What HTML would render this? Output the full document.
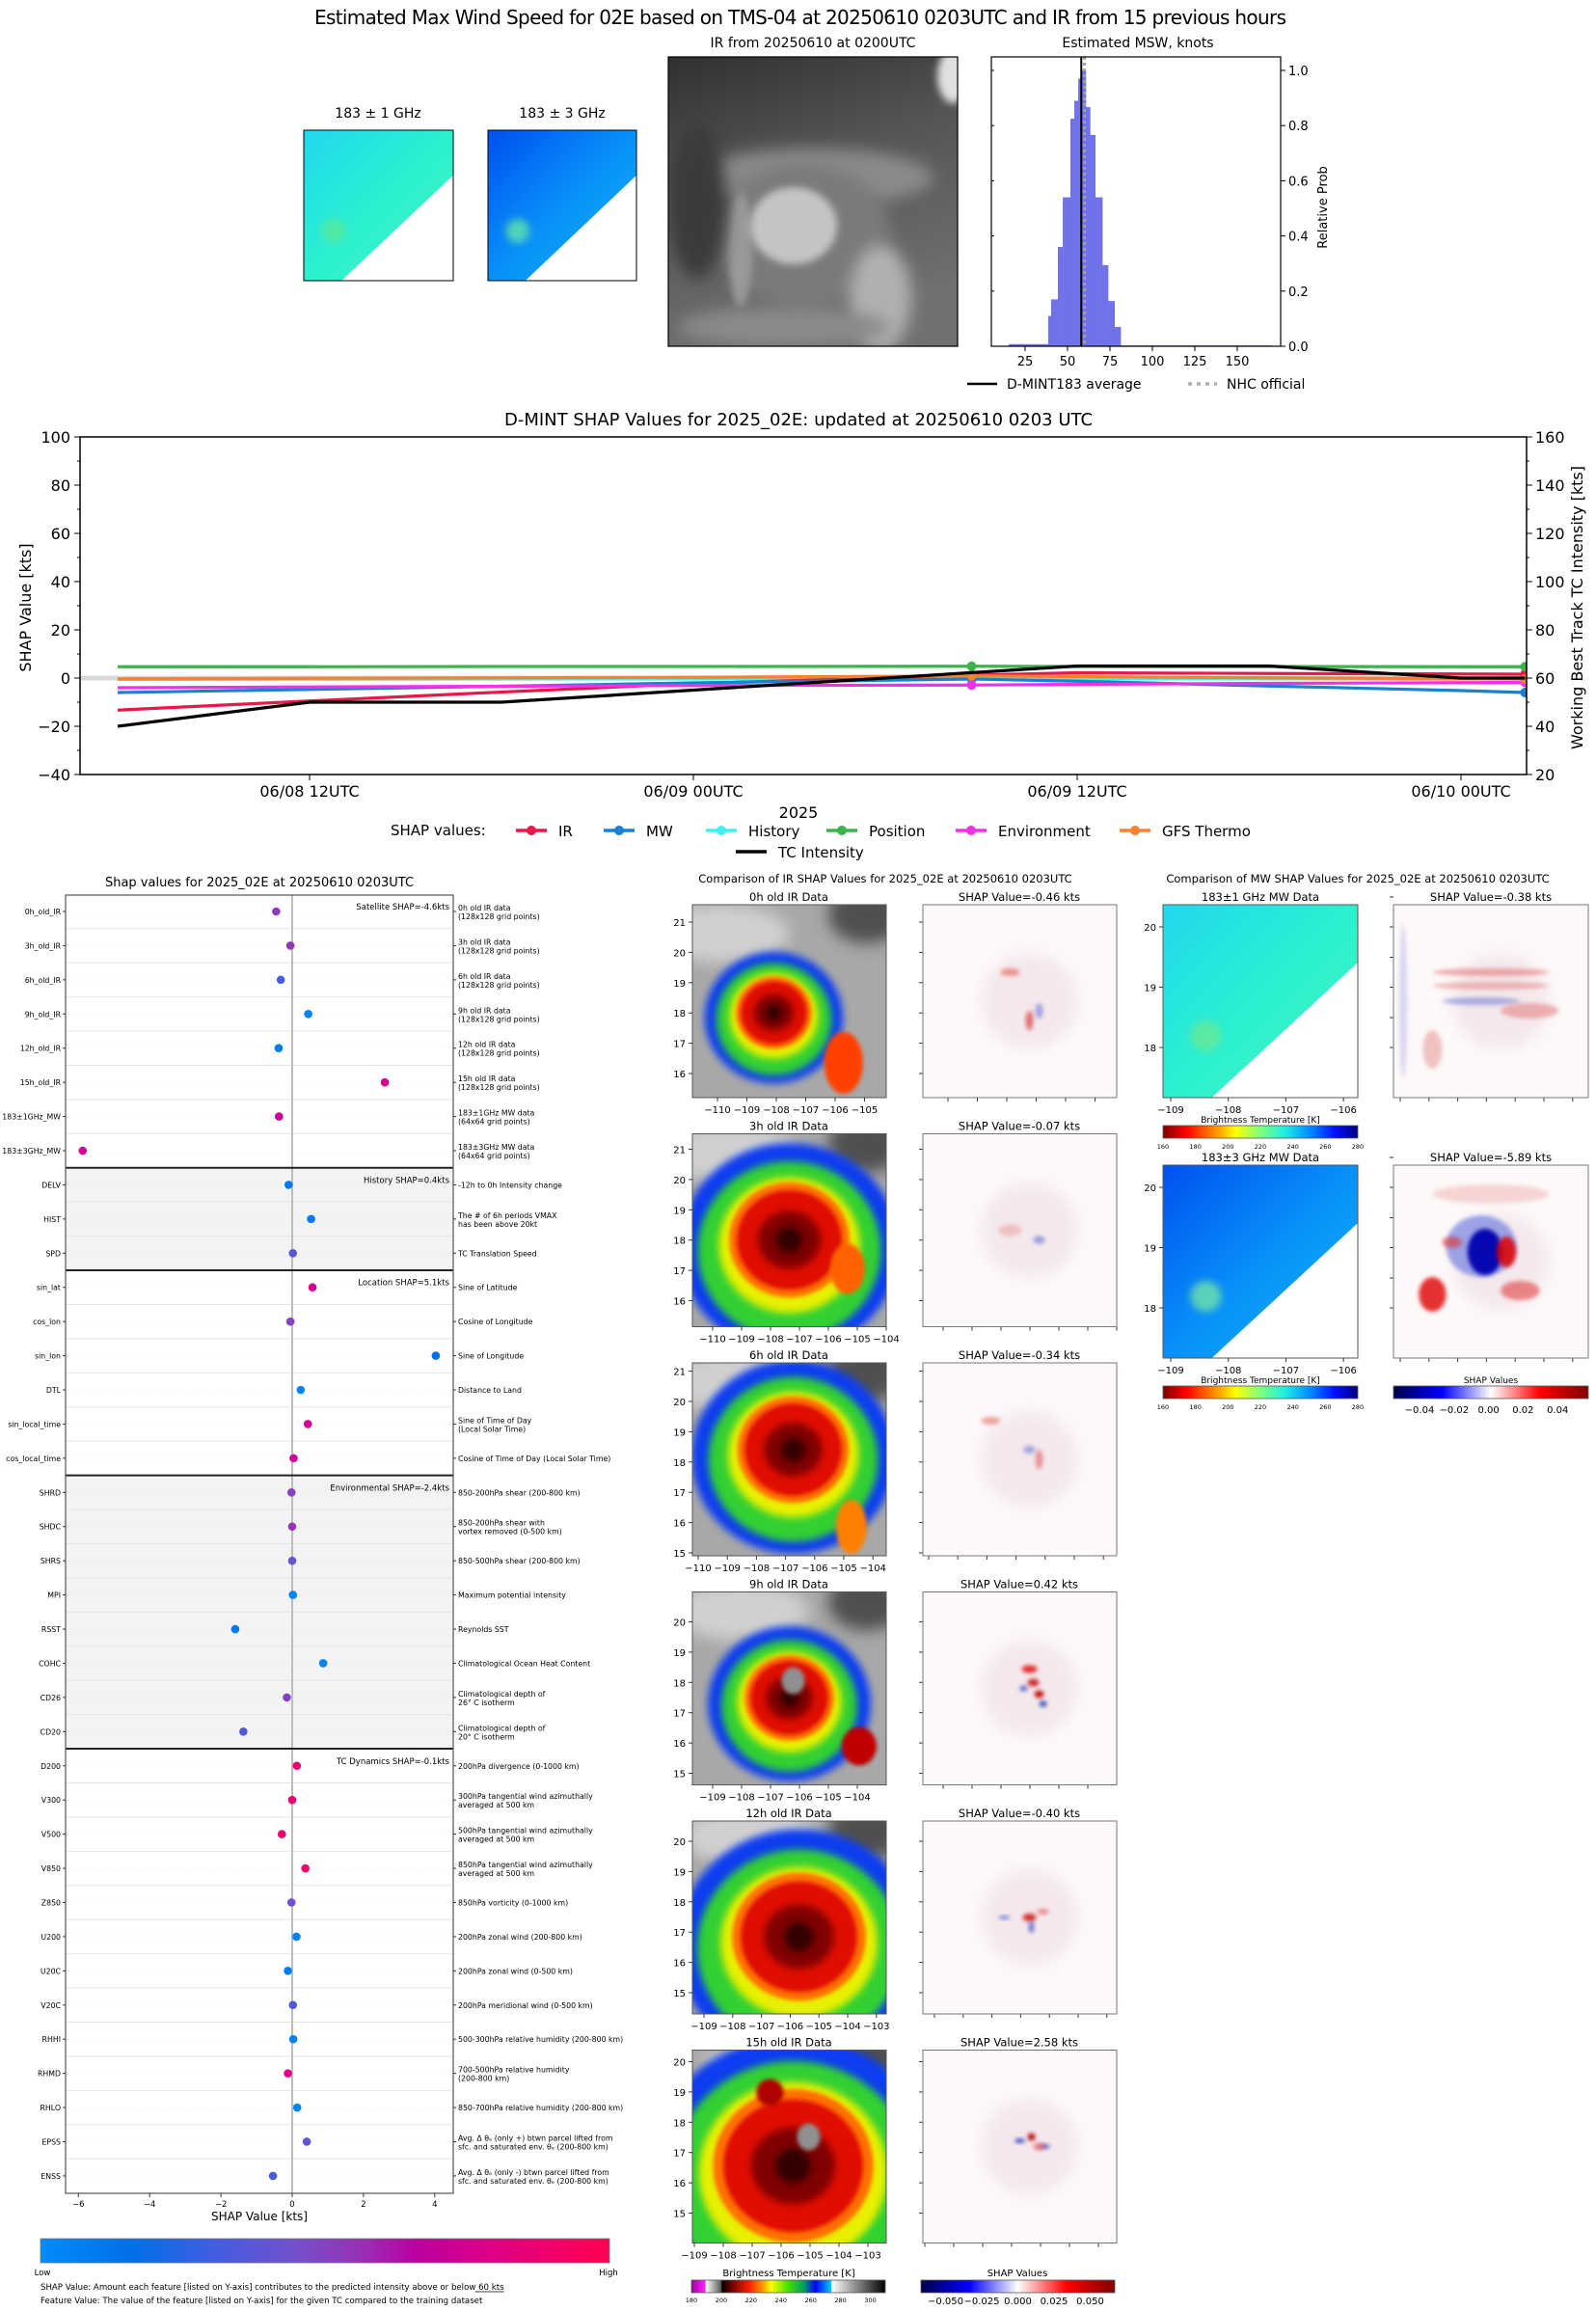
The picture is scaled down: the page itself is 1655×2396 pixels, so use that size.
<!DOCTYPE html>
<html><head><meta charset="utf-8">
<style>
body{margin:0;background:#fff}
svg{display:block;font-family:"DejaVu Sans","Liberation Sans",sans-serif}
</style></head>
<body>
<svg id="s" width="1655" height="2396" viewBox="0 0 1655 2396">
<defs id="defs">
<filter id="b2" x="-50%" y="-50%" width="200%" height="200%"><feGaussianBlur stdDeviation="2"/></filter>
<filter id="b4" x="-50%" y="-50%" width="200%" height="200%"><feGaussianBlur stdDeviation="4"/></filter>
<filter id="b8" x="-50%" y="-50%" width="200%" height="200%"><feGaussianBlur stdDeviation="8"/></filter>
<linearGradient id="gShap" x1="0" x2="1" y1="0" y2="0">
<stop offset="0" stop-color="#008bfb"/><stop offset="0.16" stop-color="#0070e8"/><stop offset="0.3" stop-color="#3f5ee2"/><stop offset="0.45" stop-color="#7450cc"/><stop offset="0.57" stop-color="#9a2eb2"/><stop offset="0.66" stop-color="#bb00a0"/><stop offset="0.78" stop-color="#dc0088"/><stop offset="1" stop-color="#ff0052"/></linearGradient>
<linearGradient id="gJet" x1="0" x2="1" y1="0" y2="0">
<stop offset="0" stop-color="#800000"/><stop offset="0.12" stop-color="#ff0000"/><stop offset="0.3" stop-color="#ffb000"/><stop offset="0.37" stop-color="#ffff00"/><stop offset="0.5" stop-color="#80ff80"/><stop offset="0.62" stop-color="#20f0e0"/><stop offset="0.75" stop-color="#0090ff"/><stop offset="0.88" stop-color="#0010ff"/><stop offset="1" stop-color="#000080"/></linearGradient>
<linearGradient id="gSeis" x1="0" x2="1" y1="0" y2="0">
<stop offset="0" stop-color="#00004c"/><stop offset="0.25" stop-color="#0000ff"/><stop offset="0.5" stop-color="#ffffff"/><stop offset="0.75" stop-color="#ff0000"/><stop offset="1" stop-color="#800000"/></linearGradient>
<linearGradient id="gIRc" x1="0" x2="1" y1="0" y2="0">
<stop offset="0" stop-color="#a000a0"/><stop offset="0.07" stop-color="#ff20ff"/><stop offset="0.075" stop-color="#ffffff"/><stop offset="0.15" stop-color="#606060"/><stop offset="0.16" stop-color="#000000"/><stop offset="0.2" stop-color="#600000"/><stop offset="0.3" stop-color="#ff2000"/><stop offset="0.38" stop-color="#ffb000"/><stop offset="0.41" stop-color="#ffff00"/><stop offset="0.5" stop-color="#40e000"/><stop offset="0.58" stop-color="#00a060"/><stop offset="0.64" stop-color="#0000ff"/><stop offset="0.72" stop-color="#00c8ff"/><stop offset="0.725" stop-color="#ffffff"/><stop offset="1" stop-color="#000000"/></linearGradient>
<linearGradient id="gMW1" x1="0" x2="1" y1="0" y2="1"><stop offset="0" stop-color="#20d8f0"/><stop offset="0.5" stop-color="#2cf0d0"/><stop offset="1" stop-color="#40f8b8"/></linearGradient>
<linearGradient id="gMW3" x1="0" x2="1" y1="0" y2="1"><stop offset="0" stop-color="#0050f0"/><stop offset="0.5" stop-color="#0890f8"/><stop offset="1" stop-color="#10b8f8"/></linearGradient>
<linearGradient id="gGray" x1="0" x2="0.3" y1="0" y2="1"><stop offset="0" stop-color="#303030"/><stop offset="0.45" stop-color="#555"/><stop offset="1" stop-color="#707070"/></linearGradient>
</defs>
</svg>
<script>
// ---------- data ----------
const histEdges = [15.3,38.6,40.3,44.3,47.2,51.7,54,56.3,58.5,60.8,63.3,66.3,70.5,73.9,77.7,81.3,170.3];
const histProb = [0.008,0.11,0.17,0.36,0.54,0.825,0.89,0.97,1.0,0.867,0.766,0.54,0.294,0.164,0.07,0.003];
const histXTicks = [25,50,75,100,125,150];
const histYTicks = [0,0.2,0.4,0.6,0.8,1.0];
const dmintMean = 58.1;
const nhcOfficial = 60;

const tsHours = [6,12,18,24,32.7,36,42,48,50];
const tsIR = [-13.3,-9.5,-5.8,-2.3,1.2,2.2,1.9,1.7,1.6];
const tsMW = [-6,-4.7,-3.4,-2,-0.4,-1.3,-3.3,-5.2,-6];
const tsHistory = [-0.6,-0.5,-0.4,-0.3,-0.2,-0.2,-0.3,-0.4,-0.4];
const tsPosition = [4.7,4.7,4.8,4.8,4.9,4.8,4.8,4.7,4.7];
const tsEnv = [-4,-3.7,-3.4,-3.1,-2.9,-2.6,-2.2,-1.9,-1.8];
const tsGFS = [-0.3,-0.1,0.1,0.3,0.9,0.6,0.1,-0.3,-0.4];
const tcHours = [6,12,18,24,36,42,48,50];
const tcIntensity = [40,50,50,55,65,65,60,60];
const tsMarkerHours = [32.7,50];
const tsXTickHours = [12,24,36,48];
const tsXTickLabels = ['06/08 12UTC','06/09 00UTC','06/09 12UTC','06/10 00UTC'];
const tsLeftTicks = [-40,-20,0,20,40,60,80,100];
const tsRightTicks = [20,40,60,80,100,120,140,160];

const featNames = ['0h_old_IR','3h_old_IR','6h_old_IR','9h_old_IR','12h_old_IR','15h_old_IR','183±1GHz_MW','183±3GHz_MW','DELV','HIST','SPD','sin_lat','cos_lon','sin_lon','DTL','sin_local_time','cos_local_time','SHRD','SHDC','SHRS','MPI','RSST','COHC','CD26','CD20','D200','V300','V500','V850','Z850','U200','U20C','V20C','RHHI','RHMD','RHLO','EPSS','ENSS'];
const featShap = [-0.45,-0.05,-0.32,0.45,-0.38,2.6,-0.37,-5.88,-0.1,0.53,0.02,0.57,-0.05,4.03,0.24,0.44,0.04,-0.02,0,0,0.02,-1.6,0.87,-0.15,-1.37,0.13,0,-0.29,0.37,-0.02,0.12,-0.12,0.02,0.03,-0.12,0.14,0.41,-0.54];
const featValue = [0.52,0.55,0.33,0.05,0.1,0.75,0.7,0.75,0.1,0.1,0.4,0.75,0.5,0.15,0.05,0.75,0.72,0.5,0.55,0.42,0.05,0.1,0.05,0.5,0.35,0.9,0.88,0.88,0.9,0.45,0.05,0.08,0.35,0.05,0.8,0.05,0.4,0.35];
const featDesc = [['0h old IR data','(128x128 grid points)'],['3h old IR data','(128x128 grid points)'],['6h old IR data','(128x128 grid points)'],['9h old IR data','(128x128 grid points)'],['12h old IR data','(128x128 grid points)'],['15h old IR data','(128x128 grid points)'],['183±1GHz MW data','(64x64 grid points)'],['183±3GHz MW data','(64x64 grid points)'],['-12h to 0h Intensity change'],['The # of 6h periods VMAX','has been above 20kt'],['TC Translation Speed'],['Sine of Latitude'],['Cosine of Longitude'],['Sine of Longitude'],['Distance to Land'],['Sine of Time of Day','(Local Solar Time)'],['Cosine of Time of Day (Local Solar Time)'],['850-200hPa shear (200-800 km)'],['850-200hPa shear with','vortex removed (0-500 km)'],['850-500hPa shear (200-800 km)'],['Maximum potential intensity'],['Reynolds SST'],['Climatological Ocean Heat Content'],['Climatological depth of','26° C isotherm'],['Climatological depth of','20° C isotherm'],['200hPa divergence (0-1000 km)'],['300hPa tangential wind azimuthally','averaged at 500 km'],['500hPa tangential wind azimuthally','averaged at 500 km'],['850hPa tangential wind azimuthally','averaged at 500 km'],['850hPa vorticity (0-1000 km)'],['200hPa zonal wind (200-800 km)'],['200hPa zonal wind (0-500 km)'],['200hPa meridional wind (0-500 km)'],['500-300hPa relative humidity (200-800 km)'],['700-500hPa relative humidity','(200-800 km)'],['850-700hPa relative humidity (200-800 km)'],['Avg. Δ θₑ (only +) btwn parcel lifted from','sfc. and saturated env. θₑ (200-800 km)'],['Avg. Δ θₑ (only -) btwn parcel lifted from','sfc. and saturated env. θₑ (200-800 km)']];
const groupLabels = ['Satellite SHAP=-4.6kts','History SHAP=0.4kts','Location SHAP=5.1kts','Environmental SHAP=-2.4kts','TC Dynamics SHAP=-0.1kts'];
const groupStarts = [0,8,11,17,25,38];
const shapXTicks = [-6,-4,-2,0,2,4];

const irTitles = ['0h old IR Data','3h old IR Data','6h old IR Data','9h old IR Data','12h old IR Data','15h old IR Data'];
const irShapVals = ['-0.46','-0.07','-0.34','0.42','-0.40','2.58'];
const mwShapVals = ['-0.38','-5.89'];

// ---------- helpers ----------
const NS='http://www.w3.org/2000/svg';
const svg=document.getElementById('s');
const defs=document.getElementById('defs');
function mk(tag,at,p){const e=document.createElementNS(NS,tag);for(const k in at)e.setAttribute(k,at[k]);(p||svg).appendChild(e);return e;}
function tx(str,x,y,size,anchor,p){const e=mk('text',{x:x,y:y,'font-size':size,'text-anchor':anchor||'start',fill:'#000'},p);e.textContent=str;return e;}
function grp(p){return mk('g',{},p);}
function fmtMinus(v){return (v<0?'\u2212':'')+Math.abs(v);}
let cid=0;
function clipRect(x,y,w,h){const id='c'+(cid++);const c=mk('clipPath',{id:id},defs);mk('rect',{x:x,y:y,width:w,height:h},c);return 'url(#'+id+')';}

// ---------- top title ----------
let t=tx('Estimated Max Wind Speed for 02E based on TMS-04 at 20250610 0203UTC and IR from 15 previous hours',830,25,20,'middle');
t.setAttribute('textLength','1008');



// ---------- MW small panels ----------
function mwPanel(x,y,w,h,grad,spot,p){
  mk('rect',{x:x,y:y,width:w,height:h,fill:'url(#'+grad+')'},p);
  mk('ellipse',{cx:x+w*spot[0],cy:y+h*spot[1],rx:w*0.08,ry:h*0.08,fill:spot[2],opacity:0.7,filter:'url(#b4)'},p);
  mk('polygon',{points:(x+w)+','+(y+h*0.3)+' '+(x+w+1)+','+(y+h+1)+' '+(x+w*0.245)+','+(y+h+1),fill:'#fff'},p);
}
let g=grp();


tx('183 ± 1 GHz',392,122,14,'middle',g);
mwPanel(315,135,155,156,'gMW1',[0.2,0.67,'#60e890'],g);
mk('rect',{x:315,y:135,width:155,height:156,fill:'none',stroke:'#000','stroke-width':1},g);
g=grp();


tx('183 ± 3 GHz',583,122,14,'middle',g);
mwPanel(506,135,154,156,'gMW3',[0.2,0.67,'#70f0a0'],g);
mk('rect',{x:506,y:135,width:154,height:156,fill:'none',stroke:'#000','stroke-width':1},g);

// ---------- top IR image ----------
g=grp();


tx('IR from 20250610 at 0200UTC',843,49,14,'middle',g);
let gi=mk('g',{'clip-path':clipRect(693,59,300,300)},g);
mk('rect',{x:693,y:59,width:300,height:300,fill:'url(#gGray)'},gi);
mk('ellipse',{cx:693+150,cy:59+125,rx:125,ry:30,fill:'#8a8a8a',filter:'url(#b8)'},gi);
mk('ellipse',{cx:693+140,cy:59+185,rx:90,ry:75,fill:'#7a7a7a',filter:'url(#b8)'},gi);
mk('ellipse',{cx:693+75,cy:59+200,rx:12,ry:60,fill:'#9a9a9a',filter:'url(#b4)'},gi);
mk('ellipse',{cx:693+130,cy:59+175,rx:45,ry:40,fill:'#c4c4c4',filter:'url(#b4)'},gi);
mk('ellipse',{cx:693+220,cy:59+250,rx:32,ry:55,fill:'#b0b0b0',filter:'url(#b8)'},gi);
mk('ellipse',{cx:693+295,cy:59+20,rx:16,ry:28,fill:'#e0e0e0',filter:'url(#b4)'},gi);
mk('ellipse',{cx:693+120,cy:59+280,rx:110,ry:20,fill:'#8a8a8a',filter:'url(#b8)'},gi);
mk('ellipse',{cx:693+30,cy:59+150,rx:30,ry:80,fill:'#3a3a3a',filter:'url(#b8)'},gi);
mk('rect',{x:693,y:59,width:300,height:300,fill:'none',stroke:'#000','stroke-width':1.2},g);

// ---------- histogram ----------
const HX=k=>1019+k*1.76, HY=p=>359-p*286;
g=grp();


tx('Estimated MSW, knots',1180,49,14,'middle',g);
for(let i=0;i<histProb.length;i++){
  const b=mk('rect',{x:HX(histEdges[i]),y:HY(histProb[i]),width:HX(histEdges[i+1])-HX(histEdges[i])+0.3,height:HY(0)-HY(histProb[i]),fill:'#7272e8'},g);
  
  
}
let ln=mk('line',{x1:HX(dmintMean),x2:HX(dmintMean),y1:59,y2:359,stroke:'#000','stroke-width':2},g);


ln=mk('line',{x1:HX(nhcOfficial),x2:HX(nhcOfficial),y1:59,y2:359,stroke:'#a0a0a0','stroke-width':3,'stroke-dasharray':'3 3'},g);


mk('rect',{x:1028,y:59,width:300,height:300,fill:'none',stroke:'#000','stroke-width':1.2},g);
histXTicks.forEach(k=>{mk('line',{x1:HX(k),x2:HX(k),y1:359,y2:364,stroke:'#000'},g);const l=tx(String(k),HX(k),379,13,'middle',g);});
histYTicks.forEach(p=>{mk('line',{x1:1328,x2:1333,y1:HY(p),y2:HY(p),stroke:'#000'},g);mk('line',{x1:1028,x2:1031,y1:HY(p),y2:HY(p),stroke:'#000'},g);const l=tx(p.toFixed(1),1336,HY(p)+5,13,'start',g);});
t=tx('Relative Prob',1376,215,13,'middle',g);
t.setAttribute('transform','rotate(-90 1376 215)');


g=grp();


mk('line',{x1:1003,x2:1034,y1:398,y2:398,stroke:'#000','stroke-width':2.5},g);
tx('D-MINT183 average',1044,403,14,'start',g);
mk('line',{x1:1232,x2:1262,y1:398,y2:398,stroke:'#b0b0b0','stroke-width':3.5,'stroke-dasharray':'4 5'},g);
tx('NHC official',1272,403,14,'start',g);

// ---------- time series ----------
const TX=h=>-77+h*33.167, TY=v=>803-(v+40)*2.5, TYR=k=>TY(k-60);
g=grp();


t=tx('D-MINT SHAP Values for 2025_02E: updated at 20250610 0203 UTC',828,441,18,'middle',g);


const gp=mk('g',{'clip-path':clipRect(83,453,1500,350)},g);
mk('line',{x1:83,x2:1583,y1:TY(0),y2:TY(0),stroke:'#d8d8d8','stroke-width':5},gp);
const series=[['IR',tsIR,'#e6194b'],['MW',tsMW,'#1a80d0'],['History',tsHistory,'#42f0f0'],['Position',tsPosition,'#3cb44b'],['Environment',tsEnv,'#f032e6'],['GFS Thermo',tsGFS,'#f58231']];
const drawOrder=[2,0,1,3,4,5];
drawOrder.forEach(si=>{
  const s=series[si];
  const pts=tsHours.map((h,i)=>TX(h)+','+TY(s[1][i])).join(' ');
  const pl=mk('polyline',{points:pts,fill:'none',stroke:s[2],'stroke-width':3.2,'stroke-linejoin':'round'},gp);
  
  
  tsMarkerHours.forEach(mh=>{const i=tsHours.indexOf(mh);const c=mk('circle',{cx:TX(mh),cy:TY(s[1][i]),r:5,fill:s[2]},gp);});
});
const tcl=mk('polyline',{points:tcHours.map((h,i)=>TX(h)+','+TYR(tcIntensity[i])).join(' '),fill:'none',stroke:'#000','stroke-width':3.2},gp);


mk('rect',{x:83,y:453,width:1500,height:350,fill:'none',stroke:'#000','stroke-width':1.5},g);
tsLeftTicks.forEach(v=>{mk('line',{x1:77,x2:83,y1:TY(v),y2:TY(v),stroke:'#000'},g);const l=tx(fmtMinus(v),73,TY(v)+6,16,'end',g);});
for(let v=-30;v<100;v+=20){mk('line',{x1:80,x2:83,y1:TY(v),y2:TY(v),stroke:'#000'},g);}
tsRightTicks.forEach(k=>{mk('line',{x1:1583,x2:1589,y1:TYR(k),y2:TYR(k),stroke:'#000'},g);const l=tx(String(k),1592,TYR(k)+6,16,'start',g);});
for(let k=30;k<160;k+=20){mk('line',{x1:1583,x2:1586,y1:TYR(k),y2:TYR(k),stroke:'#000'},g);}
tsXTickHours.forEach((h,i)=>{mk('line',{x1:TX(h),x2:TX(h),y1:803,y2:809,stroke:'#000'},g);const l=tx(tsXTickLabels[i],TX(h),826,16,'middle',g);});
t=tx('2025',828,848,16,'middle',g);


t=tx('SHAP Value [kts]',32,630,16,'middle',g);
t.setAttribute('transform','rotate(-90 32 630)');


t=tx('Working Best Track TC Intensity [kts]',1641,630,16,'middle',g);
t.setAttribute('transform','rotate(-90 1641 630)');


g=grp();


tx('SHAP values:',405,866,15,'start',g);
const legX=[535,626,732,857,991,1161];
series.forEach((s,i)=>{
  const e=grp(g);
  
  
  mk('line',{x1:legX[i],x2:legX[i]+32,y1:861,y2:861,stroke:s[2],'stroke-width':3.5},e);
  mk('circle',{cx:legX[i]+16,cy:861,r:5,fill:s[2]},e);
  tx(s[0],legX[i]+44,867,15,'start',e);
});
let e2=grp(g);


mk('line',{x1:763,x2:795,y1:883,y2:883,stroke:'#000','stroke-width':3.5},e2);
tx('TC Intensity',807,889,15,'start',e2);

// ---------- SHAP feature panel ----------
const RY=i=>945+i*35.43, SX=v=>303+v*36.95;
const cmStops=[[0,[0,139,251]],[0.16,[0,112,232]],[0.3,[63,94,226]],[0.45,[116,80,204]],[0.57,[154,46,178]],[0.66,[187,0,160]],[0.78,[220,0,136]],[1,[255,0,82]]];
function cmap(f){for(let i=1;i<cmStops.length;i++){if(f<=cmStops[i][0]){const a=cmStops[i-1],b=cmStops[i];const u=(f-a[0])/(b[0]-a[0]);return 'rgb('+a[1].map((c,j)=>Math.round(c+(b[1][j]-c)*u)).join(',')+')';}}return 'rgb(255,0,82)';}
g=grp();


t=tx('Shap values for 2025_02E at 20250610 0203UTC',269,919,13,'middle',g);


for(let gI=0;gI<5;gI++){
  const y0=RY(groupStarts[gI])-17.7, y1=RY(groupStarts[gI+1])-17.7;
  const r=mk('rect',{x:68,y:y0,width:402,height:y1-y0,fill:(gI%2?'#f3f3f3':'#fff')},g);
  
  
}
for(let i=1;i<38;i++){mk('line',{x1:68,x2:470,y1:RY(i)-17.7,y2:RY(i)-17.7,stroke:'#e4e4e4','stroke-width':1},g);}
for(let i=0;i<38;i++){mk('line',{x1:68,x2:470,y1:RY(i),y2:RY(i),stroke:'#eaeaea','stroke-width':0.6,'stroke-dasharray':'1 2'},g);}
mk('line',{x1:SX(0),x2:SX(0),y1:928,y2:2274,stroke:'#bdbdbd','stroke-width':2},g);
for(let gI=1;gI<5;gI++){mk('line',{x1:68,x2:470,y1:RY(groupStarts[gI])-17.7,y2:RY(groupStarts[gI])-17.7,stroke:'#222','stroke-width':2},g);}
for(let gI=0;gI<5;gI++){const l=tx(groupLabels[gI],466,RY(groupStarts[gI])-2,8.5,'end',g);}
mk('rect',{x:68,y:928,width:402,height:1346,fill:'none',stroke:'#555','stroke-width':1.2},g);
featNames.forEach((n,i)=>{
  const y=RY(i);
  mk('line',{x1:65,x2:68,y1:y,y2:y,stroke:'#333'},g);
  mk('line',{x1:470,x2:473,y1:y,y2:y,stroke:'#333'},g);
  const l=tx(n,63,y+3,7.8,'end',g);
  
  
  const d=featDesc[i];
  if(d.length===1){const dl=tx(d[0],475,y+3,7.8,'start',g);}
  else{const dl=tx(d[0],475,y-1,7.8,'start',g);const dl2=tx(d[1],475,y+8,7.8,'start',g);}
  const c=mk('circle',{cx:SX(featShap[i]),cy:y,r:4.3,fill:cmap(featValue[i])},g);
  
  
});
shapXTicks.forEach(v=>{mk('line',{x1:SX(v),x2:SX(v),y1:2274,y2:2278,stroke:'#333'},g);const l=tx(fmtMinus(v),SX(v),2288,8.5,'middle',g);});
t=tx('SHAP Value [kts]',269,2302,12,'middle',g);


let cb=mk('rect',{x:42,y:2321,width:590,height:25,fill:'url(#gShap)',stroke:'#777','stroke-width':0.8},g);


tx('Low',44,2359,8.5,'middle',g);
tx('High',631,2359,8.5,'middle',g);
const note1=tx('SHAP Value: Amount each feature [listed on Y-axis] contributes to the predicted intensity above or below 60 kts',42,2374,8.6,'start',g);


const nEnd=42+note1.getComputedTextLength();
mk('line',{x1:nEnd-30,x2:nEnd,y1:2376,y2:2376,stroke:'#000','stroke-width':0.7},g);
const note2=tx('Feature Value: The value of the feature [listed on Y-axis] for the given TC compared to the training dataset',42,2388,8.6,'start',g);



// ---------- IR panels ----------
const panelTops=[938,1175.5,1413,1650.5,1888,2125.5];
const irCfg=[
 {cx:.42,cy:.56,r:.17,ex:[[.78,.82,.1,.16,'#ff4000']],gray:[.15,.15]},
 {cx:.5,cy:.55,r:.27,ex:[[.8,.7,.09,.13,'#ff6000']],gray:[.2,.1]},
 {cx:.52,cy:.45,r:.25,ex:[[.82,.85,.08,.14,'#ff8000']],gray:[.2,.1]},
 {cx:.5,cy:.55,r:.2,ex:[[.86,.8,.09,.1,'#c00000']],gray:[.25,.1],eye:[.52,.46]},
 {cx:.55,cy:.6,r:.3,ex:[],gray:[.3,.08]},
 {cx:.52,cy:.6,r:.36,ex:[[.4,.22,.07,.07,'#b00000']],gray:[.4,.1],eye:[.6,.45]}
];
const irYTick=[[21,18,6],[21,16,6],[21,8.6,7],[20,31,6],[20,21,6],[20,12,6]];
const irXTick=[[-110,26,6,30.5],[-110,21,7,30],[-110,6,7,30.2],[-109,21,6,30],[-109,12,7,29.8],[-109,2,7,30]];
const shapBlobs=[
 [[.45,.35,.05,.02,'#e04040',.5],[.55,.6,.02,.05,'#d02020',.6],[.6,.55,.02,.04,'#3040d0',.4]],
 [[.45,.5,.06,.03,'#f08080',.4],[.6,.55,.03,.02,'#4050d0',.5]],
 [[.35,.3,.05,.02,'#e05050',.5],[.6,.5,.02,.05,'#e04040',.5],[.55,.45,.03,.02,'#5060d0',.5]],
 [[.55,.4,.04,.02,'#e00000',.8],[.57,.47,.03,.02,'#c00000',.8],[.6,.53,.025,.02,'#c00000',.9],[.52,.5,.02,.015,'#2030c0',.7],[.62,.58,.02,.015,'#0020b0',.8]],
 [[.55,.5,.035,.02,'#d00000',.8],[.42,.5,.03,.01,'#3040d0',.6],[.56,.55,.015,.03,'#2030c0',.6],[.62,.47,.03,.015,'#e05050',.6]],
 [[.56,.45,.02,.02,'#b00000',.9],[.5,.47,.025,.012,'#1020c0',.8],[.63,.5,.025,.012,'#2030c0',.7],[.6,.5,.03,.02,'#e04040',.6]]
];
function irPanel(x,y,w,h,c,p){
  const gi=mk('g',{'clip-path':clipRect(x,y,w,h)},p);
  mk('rect',{x:x,y:y,width:w,height:h,fill:'#a8a8a8'},gi);
  mk('ellipse',{cx:x+w*.9,cy:y+h*.05,rx:w*.2,ry:h*.15,fill:'#505050',filter:'url(#b8)'},gi);
  mk('ellipse',{cx:x+w*c.gray[0],cy:y+h*c.gray[1],rx:w*.35,ry:h*.15,fill:'#d0d0d0',filter:'url(#b8)'},gi);
  const R=c.r*w;
  mk('ellipse',{cx:x+w*c.cx,cy:y+h*c.cy+R*.15,rx:R*2.1,ry:R*2.0,fill:'#0a3cf0',filter:'url(#b4)'},gi);
  mk('ellipse',{cx:x+w*c.cx,cy:y+h*c.cy+R*.2,rx:R*1.75,ry:R*1.7,fill:'#30d030',filter:'url(#b4)'},gi);
  mk('ellipse',{cx:x+w*c.cx,cy:y+h*c.cy+R*.1,rx:R*1.35,ry:R*1.3,fill:'#e8f000',filter:'url(#b4)'},gi);
  mk('ellipse',{cx:x+w*c.cx,cy:y+h*c.cy,rx:R*1.15,ry:R*1.1,fill:'#ff7000',filter:'url(#b2)'},gi);
  mk('ellipse',{cx:x+w*c.cx,cy:y+h*c.cy,rx:R,ry:R*.95,fill:'#e01000',filter:'url(#b2)'},gi);
  mk('ellipse',{cx:x+w*c.cx,cy:y+h*c.cy,rx:R*.6,ry:R*.55,fill:'#800000',filter:'url(#b4)'},gi);
  mk('ellipse',{cx:x+w*c.cx,cy:y+h*c.cy,rx:R*.25,ry:R*.25,fill:'#300000',filter:'url(#b4)'},gi);
  c.ex.forEach(b=>mk('ellipse',{cx:x+w*b[0],cy:y+h*b[1],rx:w*b[2],ry:h*b[3],fill:b[4],filter:'url(#b2)'},gi));
  if(c.eye)mk('ellipse',{cx:x+w*c.eye[0],cy:y+h*c.eye[1],rx:w*.06,ry:h*.07,fill:'#909090',filter:'url(#b2)'},gi);
  mk('rect',{x:x,y:y,width:w,height:h,fill:'none',stroke:'#555','stroke-width':1},p);
}
function shapPanel(x,y,w,h,blobs,p){
  const gi=mk('g',{'clip-path':clipRect(x,y,w,h)},p);
  mk('rect',{x:x,y:y,width:w,height:h,fill:'#fdf9f9'},gi);
  mk('ellipse',{cx:x+w*.55,cy:y+h*.5,rx:w*.25,ry:h*.25,fill:'#f4e8ec',filter:'url(#b8)'},gi);
  blobs.forEach(b=>mk('ellipse',{cx:x+w*b[0],cy:y+h*b[1],rx:w*b[2],ry:h*b[3],fill:b[4],opacity:b[5],filter:'url(#b2)'},gi));
  mk('rect',{x:x,y:y,width:w,height:h,fill:'none',stroke:'#777','stroke-width':1},p);
}
g=grp();


t=tx('Comparison of IR SHAP Values for 2025_02E at 20250610 0203UTC',918,915,11.5,'middle',g);


panelTops.forEach((py,i)=>{
  const pg=grp(g);
  
  
  tx(irTitles[i],818,py-4,11.5,'middle',pg);
  irPanel(718,py,201,200,irCfg[i],pg);
  const yt=irYTick[i];
  for(let k=0;k<yt[2];k++){const yy=py+yt[1]+k*31.4;mk('line',{x1:714,x2:718,y1:yy,y2:yy,stroke:'#333'},pg);tx(String(yt[0]-k),711,yy+4,10,'end',pg);mk('line',{x1:953,x2:957,y1:yy,y2:yy,stroke:'#333'},pg);}
  const xt=irXTick[i];
  for(let k=0;k<xt[2];k++){const xx=718+xt[1]+k*xt[3];mk('line',{x1:xx,x2:xx,y1:py+200,y2:py+204,stroke:'#333'},pg);tx(fmtMinus(xt[0]+k),xx,py+216,10,'middle',pg);mk('line',{x1:xx+239,x2:xx+239,y1:py+200,y2:py+204,stroke:'#333'},pg);}
  const sg=grp(g);
  
  
  tx('SHAP Value='+irShapVals[i]+' kts',1057,py-4,11.5,'middle',sg);
  shapPanel(957,py,201,200,shapBlobs[i],sg);
});
g=grp();


tx('Brightness Temperature [K]',818,2360,10,'middle',g);
mk('rect',{x:717,y:2364,width:201,height:13,fill:'url(#gIRc)',stroke:'#555','stroke-width':0.8},g);
[180,200,220,240,260,280,300].forEach(v=>tx(String(v),717+(v-180)/130*201,2387,6.5,'middle',g));
g=grp();


tx('SHAP Values',1055,2360,10,'middle',g);
mk('rect',{x:955,y:2364,width:201,height:13,fill:'url(#gSeis)',stroke:'#555','stroke-width':0.8},g);
['−0.050','−0.025','0.000','0.025','0.050'].forEach((s,k)=>tx(s,955+(k*0.025-0.05+0.067)/0.134*201,2389,10,'middle',g));

// ---------- MW comparison ----------
g=grp();


t=tx('Comparison of MW SHAP Values for 2025_02E at 20250610 0203UTC',1408,915,11.5,'middle',g);


const mwTops=[938,1208];
const mwTitles=['183±1 GHz MW Data','183±3 GHz MW Data'];
const mwShapBlobs=[
 [[.5,.35,.3,.02,'#e06060',.5],[.5,.42,.3,.02,'#e06060',.4],[.45,.5,.2,.02,'#6070d0',.5],[.7,.55,.15,.04,'#e07070',.5],[.2,.75,.05,.1,'#e07070',.4],[.05,.5,.02,.4,'#a0a0e0',.4]],
 [[.45,.42,.18,.16,'#6070e0',.6],[.47,.45,.09,.12,'#0000b0',.95],[.58,.45,.05,.08,'#e00000',.85],[.2,.67,.07,.09,'#e00000',.8],[.65,.65,.1,.05,'#e04040',.6],[.3,.4,.05,.03,'#e03030',.6],[.5,.15,.3,.05,'#f0b0b0',.5]]
];
mwTops.forEach((py,i)=>{
  const pg=grp(g);
  
  
  tx(mwTitles[i],1307,py-4,11.5,'middle',pg);
  mwPanel(1206,py,202,200,i?'gMW3':'gMW1',[0.22,0.68,i?'#80f0a0':'#70e890'],pg);
  mk('rect',{x:1206,y:py,width:202,height:200,fill:'none',stroke:'#555','stroke-width':1},pg);
  [20,19,18].forEach((v,k)=>{const yy=py+23+k*62.5;mk('line',{x1:1202,x2:1206,y1:yy,y2:yy,stroke:'#333'},pg);tx(String(v),1199,yy+4,10,'end',pg);mk('line',{x1:1441,x2:1445,y1:yy-31,y2:yy-31,stroke:'#333'},pg);mk('line',{x1:1441,x2:1445,y1:yy,y2:yy,stroke:'#333'},pg);});
  [-109,-108,-107,-106].forEach((v,k)=>{const xx=1214+k*59.7;mk('line',{x1:xx,x2:xx,y1:py+200,y2:py+204,stroke:'#333'},pg);tx(fmtMinus(v),xx,py+216,10,'middle',pg);});
  for(let k=0;k<7;k++){const xx=1452+k*29.8;mk('line',{x1:xx,x2:xx,y1:py+200,y2:py+204,stroke:'#333'},pg);}
  tx('Brightness Temperature [K]',1307,py+226,9,'middle',pg);
  const cbr=mk('rect',{x:1206,y:py+229,width:202,height:13,fill:'url(#gJet)',stroke:'#555','stroke-width':0.8},pg);
  
  
  [160,180,200,220,240,260,280].forEach(v=>tx(String(v),1206+(v-160)/120*202,py+253,6.5,'middle',pg));
  const sg=grp(g);
  
  
  tx('SHAP Value='+mwShapVals[i]+' kts',1546,py-4,11.5,'middle',sg);
  shapPanel(1445,py,202,200,mwShapBlobs[i],sg);
});
g=grp();


tx('SHAP Values',1546,1434,9,'middle',g);
mk('rect',{x:1445,y:1437,width:202,height:13,fill:'url(#gSeis)',stroke:'#555','stroke-width':0.8},g);
['−0.04','−0.02','0.00','0.02','0.04'].forEach((s,k)=>tx(s,1472+k*35.8,1465,10,'middle',g));
</script>
</body></html>
